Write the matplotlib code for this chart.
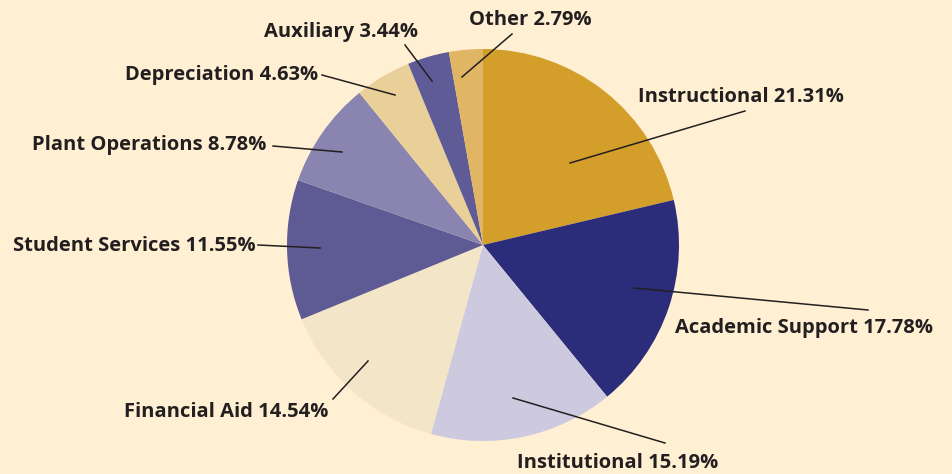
import matplotlib
matplotlib.use("agg")
import matplotlib.pyplot as plt

categories = ['Instructional', 'Academic Support', 'Institutional', 'Financial Aid',
              'Student Services', 'Plant Operations', 'Depreciation', 'Auxiliary', 'Other']
shares = [21.31, 17.78, 15.19, 14.54, 11.55, 8.78, 4.63, 3.44, 2.79]
colors = ['#D49E2A', '#2B2D7A', '#CDC9DF', '#F3E5C8', '#5E5A94',
          '#8984B0', '#E9CF98', '#5F5B96', '#E0B563']

# label text position (px), alignment, leader line start (px), leader end inside wedge (px)
label_pos = [(638, 97, 'left'), (675, 328, 'left'), (517, 463, 'left'), (328, 412, 'right'),
             (256, 246, 'right'), (266, 145, 'right'), (318, 75, 'right'), (418, 32, 'right'),
             (469, 20, 'left')]
line_start = [(745, 111), (868, 310), (665, 443), (333, 399), (258, 245),
              (273, 146), (322, 75), (405, 45), (512, 34)]
line_end = [(570, 163), (634, 288), (513, 398), (368, 361), (320, 248),
            (342, 152), (395, 95), (432, 81), (462, 77)]

bg = '#FFF0D3'
fig = plt.figure(figsize=(9.52, 4.74), dpi=100, facecolor=bg)
ax = fig.add_axes([0, 0, 1, 1])
ax.set_facecolor(bg)

ax.pie(shares, colors=colors, startangle=-90, counterclock=True,
       center=(483, 245), radius=196, frame=True,
       wedgeprops=dict(linewidth=0))

for name, v, (tx, ty, ha), s, e in zip(categories, shares, label_pos, line_start, line_end):
    ax.text(tx, ty, f'{name} {v:.2f}%', ha=ha, va='center', fontsize=14.5,
            fontweight='bold', family='Open Sans', color='#231F20')
    ax.plot([s[0], e[0]], [s[1], e[1]], color='#231F20', lw=1.1)

ax.set_xlim(0, 952)
ax.set_ylim(474, 0)
ax.set_aspect('equal')
ax.axis('off')

plt.savefig('out.png', dpi=100, facecolor=bg)
plt.close()
